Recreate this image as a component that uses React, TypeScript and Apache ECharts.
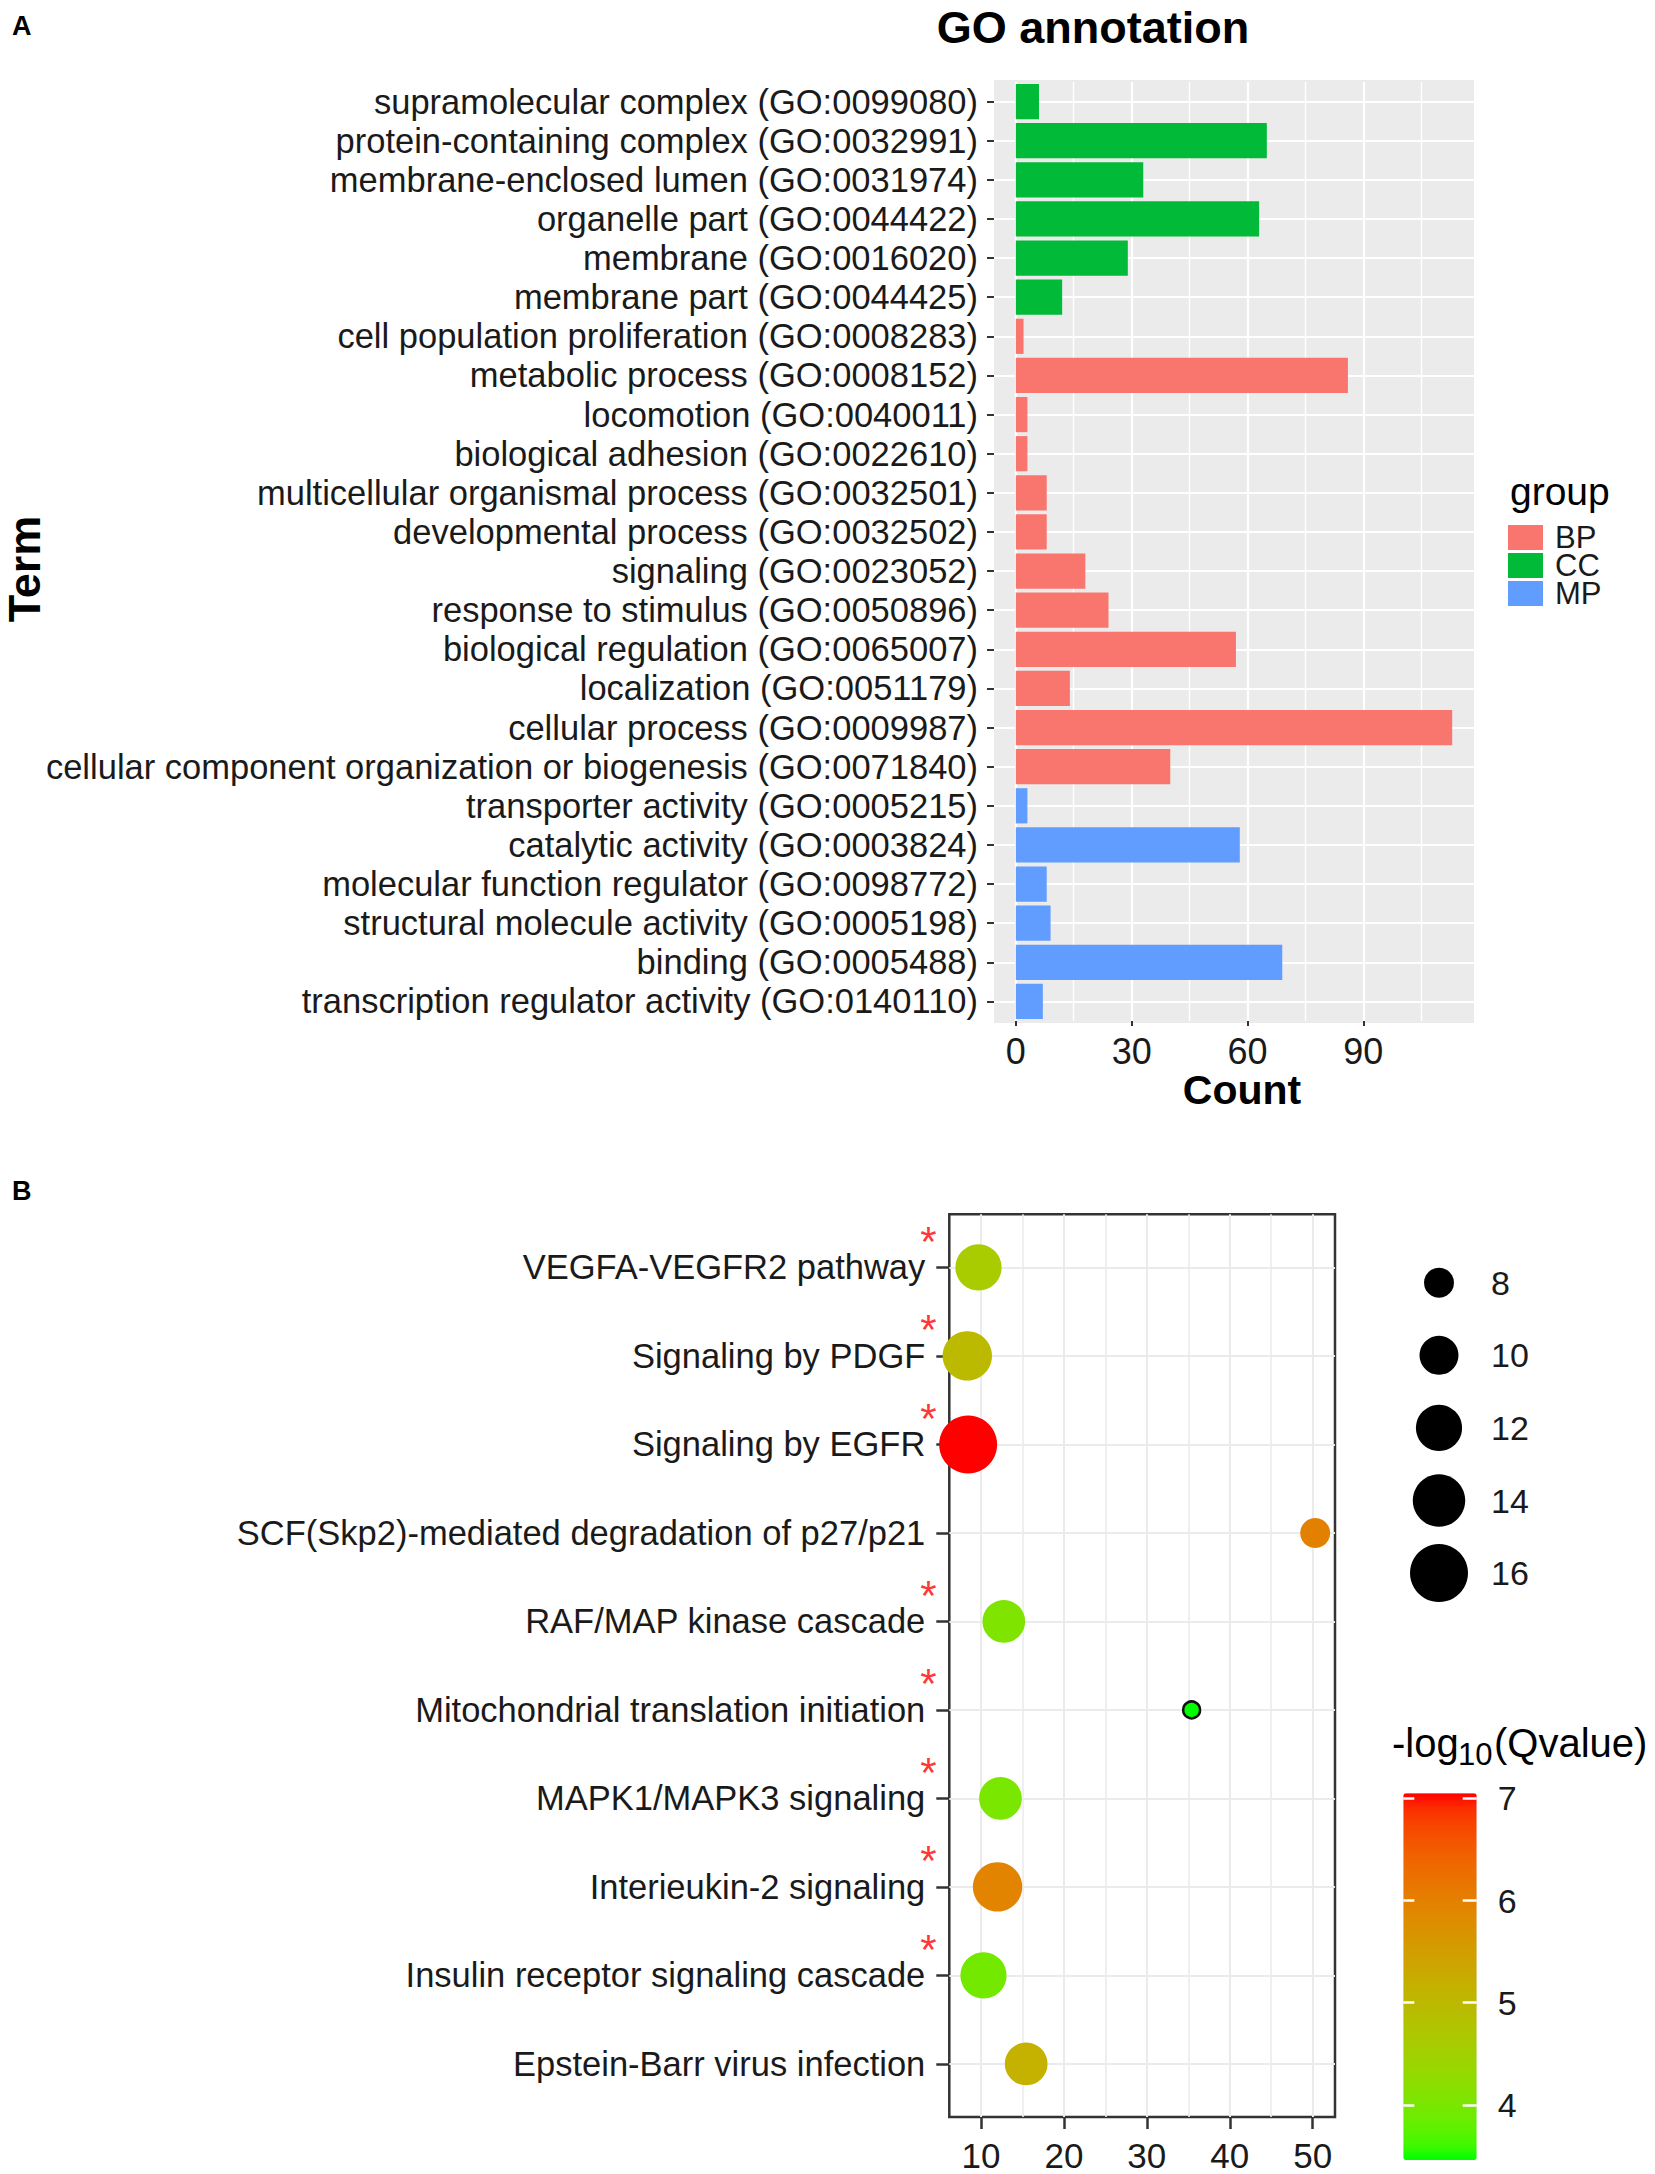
import React, { useEffect, useRef } from "react";
import * as echarts from "echarts";

const FONT = '"Liberation Sans", Arial, Helvetica, sans-serif';
const TEXT = "#1A1A1A";

// ---------- Panel A : GO annotation ----------
const goTerms = [
  "supramolecular complex (GO:0099080)",
  "protein-containing complex (GO:0032991)",
  "membrane-enclosed lumen (GO:0031974)",
  "organelle part (GO:0044422)",
  "membrane (GO:0016020)",
  "membrane part (GO:0044425)",
  "cell population proliferation (GO:0008283)",
  "metabolic process (GO:0008152)",
  "locomotion (GO:0040011)",
  "biological adhesion (GO:0022610)",
  "multicellular organismal process (GO:0032501)",
  "developmental process (GO:0032502)",
  "signaling (GO:0023052)",
  "response to stimulus (GO:0050896)",
  "biological regulation (GO:0065007)",
  "localization (GO:0051179)",
  "cellular process (GO:0009987)",
  "cellular component organization or biogenesis (GO:0071840)",
  "transporter activity (GO:0005215)",
  "catalytic activity (GO:0003824)",
  "molecular function regulator (GO:0098772)",
  "structural molecule activity (GO:0005198)",
  "binding (GO:0005488)",
  "transcription regulator activity (GO:0140110)",
];
const goCounts = [6, 65, 33, 63, 29, 12, 2, 86, 3, 3, 8, 8, 18, 24, 57, 14, 113, 40, 3, 58, 8, 9, 69, 7];
const goGroups = [
  "CC", "CC", "CC", "CC", "CC", "CC",
  "BP", "BP", "BP", "BP", "BP", "BP", "BP", "BP", "BP", "BP", "BP", "BP",
  "MP", "MP", "MP", "MP", "MP", "MP",
];
const groupNames = ["BP", "CC", "MP"];
const groupColors = ["#F8766D", "#00BA38", "#619CFF"];
const countTicks = [0, 30, 60, 90];
const countMinorTicks = [15, 45, 75, 105];

// ---------- Panel B : pathway enrichment ----------
const pathways = [
  "VEGFA-VEGFR2 pathway",
  "Signaling by PDGF",
  "Signaling by EGFR",
  "SCF(Skp2)-mediated degradation of p27/p21",
  "RAF/MAP kinase cascade",
  "Mitochondrial translation initiation",
  "MAPK1/MAPK3 signaling",
  "Interieukin-2 signaling",
  "Insulin receptor signaling cascade",
  "Epstein-Barr virus infection",
];
const pathwayStar = [true, true, true, false, true, true, true, true, true, false];
const pathwayRing = [false, false, false, false, false, true, false, false, false, false];
const pathwayX = [9.7, 8.35, 8.45, 50.3, 12.75, 35.4, 12.35, 12.0, 10.3, 15.45];
const pathwayCount = [12, 13, 16, 8, 11, 6, 11, 13, 12, 11];
const pathwayLogQ = [4.6, 4.95, 7.05, 6.0, 4.05, 3.46, 4.0, 5.95, 3.95, 5.15];
const xTicksB = [10, 20, 30, 40, 50];
const xMinorB = [15, 25, 35, 45];
const xLimitsB = [6.18, 52.69];
const sizeBreaks = [8, 10, 12, 14, 16];
const qTicks = [4, 5, 6, 7];

// ---------- colour helpers (Lab gradient like ggplot's scale_colour_gradient) ----------
function hexToRgb(hex: string) {
  const n = parseInt(hex.slice(1), 16);
  return [(n >> 16) & 255, (n >> 8) & 255, n & 255];
}
function toLin(c: number) {
  c /= 255;
  return c <= 0.04045 ? c / 12.92 : Math.pow((c + 0.055) / 1.055, 2.4);
}
function fromLin(c: number) {
  const v = c <= 0.0031308 ? 12.92 * c : 1.055 * Math.pow(Math.max(c, 0), 1 / 2.4) - 0.055;
  return Math.round(Math.min(1, Math.max(0, v)) * 255);
}
const WX = 0.95047, WY = 1.0, WZ = 1.08883;
function rgbToLab(rgb: number[]) {
  const [r, g, b] = rgb.map(toLin);
  const X = (0.4124 * r + 0.3576 * g + 0.1805 * b) / WX;
  const Y = (0.2126 * r + 0.7152 * g + 0.0722 * b) / WY;
  const Z = (0.0193 * r + 0.1192 * g + 0.9505 * b) / WZ;
  const f = (t: number) => (t > 0.008856 ? Math.cbrt(t) : 7.787 * t + 16 / 116);
  const fx = f(X), fy = f(Y), fz = f(Z);
  return [116 * fy - 16, 500 * (fx - fy), 200 * (fy - fz)];
}
function labToHex(lab: number[]) {
  const [L, a, b] = lab;
  const fy = (L + 16) / 116, fx = fy + a / 500, fz = fy - b / 200;
  const inv = (t: number) => (t * t * t > 0.008856 ? t * t * t : (t - 16 / 116) / 7.787);
  const X = inv(fx) * WX, Y = inv(fy) * WY, Z = inv(fz) * WZ;
  const r = fromLin(3.2406 * X - 1.5372 * Y - 0.4986 * Z);
  const g = fromLin(-0.9689 * X + 1.8758 * Y + 0.0415 * Z);
  const bb = fromLin(0.0557 * X - 0.204 * Y + 1.057 * Z);
  return "#" + [r, g, bb].map((v) => v.toString(16).padStart(2, "0")).join("");
}
function labRamp(c1: string, c2: string, n: number) {
  const l1 = rgbToLab(hexToRgb(c1));
  const l2 = rgbToLab(hexToRgb(c2));
  const out: string[] = [];
  for (let k = 0; k < n; k++) {
    const t = k / (n - 1);
    out.push(labToHex(l1.map((v, j) => v + (l2[j] - v) * t)));
  }
  return out;
}

// size scale: symbol area linear in count
const sizeOf = (c: number) => 2 * Math.sqrt(Math.max(77 * c - 391, 16));

function txt(text: string, x: number, y: number, size: number, opts: any = {}) {
  const align = opts.align || "center";
  const style: any = {
    text,
    fontSize: size,
    fontFamily: FONT,
    fontWeight: opts.bold ? "bold" : "normal",
    fill: opts.fill || "#000",
    align,
    verticalAlign: "middle",
    textAlign: align,
    textVerticalAlign: "middle",
  };
  return {
    type: "text",
    x,
    y,
    z: 10,
    silent: true,
    rotation: opts.rotation || 0,
    style,
  };
}

export default function App() {
  const ref = useRef<HTMLDivElement>(null);

  useEffect(() => {
    if (!ref.current) return;
    const chart = echarts.init(ref.current, undefined, { renderer: "svg" });

    const goMax = Math.max(...goCounts);
    const qMin = Math.min(...pathwayLogQ);
    const qMax = Math.max(...pathwayLogQ);
    const ramp = labRamp("#00FF00", "#FF0000", 25);
    const rowIdx = pathways.map((_, i) => i);

    const gridLineA = (w: number) => ({ color: "#FFFFFF", width: w, type: "solid" });
    const gridLineB = (w: number) => ({ color: "#EBEBEB", width: w, type: "solid" });
    const noLine = { show: false, onZero: false };

    const barSeries = groupNames.map((g, gi) => {
      const s: any = {
        name: g,
        type: "bar",
        xAxisIndex: 0,
        yAxisIndex: 0,
        stack: "go",
        barWidth: "90%",
        itemStyle: { color: groupColors[gi] },
        data: goTerms.map((_, i) => (goGroups[i] === g ? goCounts[i] : "-")),
        z: 2,
      };
      if (gi === 0) {
        s.markLine = {
          silent: true,
          symbol: ["none", "none"],
          label: { show: false },
          z: 1,
          lineStyle: { type: "solid" },
          data: [
            ...countTicks.map((v) => ({ xAxis: v, lineStyle: gridLineA(2.2) })),
            ...countMinorTicks.map((v) => ({ xAxis: v, lineStyle: gridLineA(1.4) })),
            ...goTerms.map((_, i) => ({ yAxis: i, lineStyle: gridLineA(2.2) })),
          ],
        };
      }
      return s;
    });

    const option: any = {
      animation: false,
      textStyle: { fontFamily: FONT },
      grid: [
        { left: 994, top: 82, width: 480, height: 939 },
        {
          left: 949.3,
          top: 1214.3,
          width: 385.7,
          height: 902.7,
          show: true,
          backgroundColor: "#FFFFFF",
          borderColor: "#333333",
          borderWidth: 2.5,
        },
        { left: 1399, top: 1246.4, width: 80, height: 363 },
        { left: 1403.3, top: 1793.3, width: 73.4, height: 366.7 },
      ],
      xAxis: [
        {
          gridIndex: 0,
          type: "value",
          min: -0.05 * goMax,
          max: 1.05 * goMax,
          axisLine: noLine,
          axisTick: { show: true, customValues: countTicks, length: 5, lineStyle: { color: "#333", width: 2 } },
          axisLabel: { customValues: countTicks, fontSize: 36, color: TEXT, margin: 12 },
          splitLine: { show: false },
        },
        {
          gridIndex: 1,
          type: "value",
          position: "bottom",
          min: xLimitsB[0],
          max: xLimitsB[1],
          axisLine: noLine,
          axisTick: { show: true, customValues: xTicksB, length: 12, lineStyle: { color: "#333", width: 2.5 } },
          axisLabel: { customValues: xTicksB, fontSize: 35, color: TEXT, margin: 21 },
          splitLine: { show: false },
        },
        { gridIndex: 2, type: "value", min: 0, max: 2, show: false, axisLine: noLine },
        { gridIndex: 3, type: "value", min: 0, max: 1, show: false, axisLine: noLine },
      ],
      yAxis: [
        {
          gridIndex: 0,
          type: "category",
          data: goTerms,
          inverse: true,
          axisLine: noLine,
          axisTick: { show: true, alignWithLabel: true, interval: 0, length: 7, lineStyle: { color: "#333", width: 2 } },
          axisLabel: { interval: 0, fontSize: 34.5, color: TEXT, margin: 16 },
          splitLine: { show: false },
        },
        {
          gridIndex: 1,
          type: "value",
          position: "left",
          inverse: true,
          min: -0.6,
          max: pathways.length - 0.4,
          axisLine: noLine,
          axisTick: { show: true, customValues: rowIdx, length: 13, lineStyle: { color: "#333", width: 2.5 } },
          axisLabel: {
            customValues: rowIdx,
            formatter: (v: number) => pathways[Math.round(v)] || "",
            fontSize: 34.5,
            color: TEXT,
            margin: 24,
          },
          splitLine: { show: false },
        },
        {
          gridIndex: 2,
          type: "category",
          data: sizeBreaks.map(String),
          inverse: true,
          position: "right",
          axisLine: noLine,
          axisTick: { show: false },
          axisLabel: { interval: 0, fontSize: 34, color: TEXT, margin: 12 },
          splitLine: { show: false },
        },
        {
          gridIndex: 3,
          type: "value",
          min: qMin,
          max: qMax,
          position: "right",
          z: 10,
          axisLine: noLine,
          axisTick: { show: true, inside: true, customValues: qTicks, length: 14, lineStyle: { color: "#FFFFFF", width: 2.5 } },
          axisLabel: { customValues: qTicks, fontSize: 34, color: TEXT, margin: 21 },
          splitLine: { show: false },
        },
        {
          gridIndex: 3,
          type: "value",
          min: qMin,
          max: qMax,
          position: "left",
          z: 10,
          axisLine: noLine,
          axisTick: { show: true, inside: true, customValues: qTicks, length: 11, lineStyle: { color: "#FFFFFF", width: 2.5 } },
          axisLabel: { show: false },
          splitLine: { show: false },
        },
      ],
      legend: {
        data: groupNames,
        orient: "vertical",
        left: 1508,
        top: 522,
        itemWidth: 35,
        itemHeight: 25,
        itemGap: -3,
        icon: "rect",
        padding: 0,
        selectedMode: false,
        textStyle: { fontSize: 31, color: TEXT, fontFamily: FONT, padding: [0, 0, 0, 7] },
      },
      visualMap: [
        {
          type: "continuous",
          seriesIndex: 3,
          dimension: 3,
          min: qMin,
          max: qMax,
          inRange: { color: ramp },
          orient: "vertical",
          left: 1403.3,
          top: 1793.3,
          itemWidth: 73.4,
          itemHeight: 366.7,
          padding: 0,
          z: 1,
          calculable: false,
          hoverLink: false,
        },
      ],
      series: [
        ...barSeries,
        {
          type: "scatter",
          xAxisIndex: 1,
          yAxisIndex: 1,
          clip: true,
          z: 3,
          symbolSize: (v: number[]) => sizeOf(v[2]),
          itemStyle: { opacity: 1 },
          data: pathways.map((p, i) => ({
            name: p,
            value: [pathwayX[i], i, pathwayCount[i], pathwayLogQ[i]],
            itemStyle: pathwayRing[i] ? { borderColor: "#111", borderWidth: 2.5, opacity: 1 } : { opacity: 1 },
          })),
          markLine: {
            silent: true,
            symbol: ["none", "none"],
            label: { show: false },
            z: 1,
            lineStyle: { type: "solid" },
            data: [
              ...xTicksB.map((v) => ({ xAxis: v, lineStyle: gridLineB(2) })),
              ...xMinorB.map((v) => ({ xAxis: v, lineStyle: gridLineB(1.6) })),
              ...rowIdx.map((i) => ({ yAxis: i, lineStyle: gridLineB(2) })),
            ],
          },
        },
        {
          type: "scatter",
          xAxisIndex: 1,
          yAxisIndex: 1,
          clip: false,
          silent: true,
          z: 5,
          symbolSize: 1,
          itemStyle: { color: "rgba(0,0,0,0)" },
          label: {
            show: true,
            formatter: "*",
            color: "#FF0000",
            fontSize: 42,
            position: "inside",
            offset: [-21, -26],
          },
          data: rowIdx.filter((i) => pathwayStar[i]).map((i) => [xLimitsB[0], i]),
        },
        {
          type: "scatter",
          xAxisIndex: 2,
          yAxisIndex: 2,
          silent: true,
          symbolSize: (v: number[]) => sizeOf(v[2]),
          itemStyle: { color: "#000000", opacity: 1 },
          data: sizeBreaks.map((b, i) => [1, i, b]),
        },
      ],
      graphic: {
        elements: [
          {
            type: "rect",
            z: 0,
            silent: true,
            shape: { x: 994, y: 80, width: 480, height: 943 },
            style: { fill: "#EBEBEB" },
          },
          txt("A", 12, 26, 27, { bold: true, align: "left" }),
          txt("GO annotation", 1093, 27, 45, { bold: true }),
          txt("Term", 24, 569, 45, { bold: true, rotation: Math.PI / 2 }),
          txt("Count", 1242, 1090, 41, { bold: true }),
          txt("group", 1510, 491, 39, { align: "left" }),
          txt("B", 12, 1191, 27, { bold: true, align: "left" }),
          txt("-log", 1392, 1743, 40, { align: "left" }),
          txt("10", 1458, 1754, 31, { align: "left" }),
          txt("(Qvalue)", 1494, 1743, 40, { align: "left" }),
        ],
      },
    };

    chart.setOption(option);
    return () => chart.dispose();
  }, []);

  return (
    <div
      ref={ref}
      style={{ position: "absolute", left: 0, top: 0, width: 1655, height: 2174, background: "#fff" }}
    />
  );
}
